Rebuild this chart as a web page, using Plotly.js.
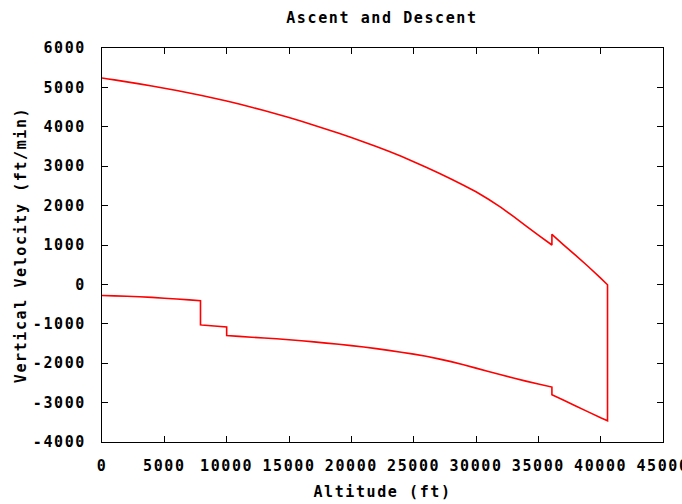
<!DOCTYPE html>
<html>
<head>
<meta charset="utf-8">
<script src="https://cdn.plot.ly/plotly-3.0.1.min.js"></script>
<style>
  html, body { margin: 0; padding: 0; background: #fff; }
  #chart { width: 682px; height: 504px; }
  #chart text { letter-spacing: 1.6px; }
</style>
</head>
<body>
<div id="chart"></div>
<script>
// Ascent: altitude (ft) and vertical velocity (ft/min)
const ascentAltitude = [0, 500, 1000, 2000, 3000, 4000, 5000, 6000, 7000, 8000, 9000, 10000, 11000, 12000, 13000, 14000, 15000, 16000, 17000, 18000, 19000, 20000, 21000, 22000, 23000, 24000, 25000, 26000, 27000, 28000, 29000, 30000, 31000, 32000, 33000, 34000, 35000, 36089, 36089, 37000, 38000, 39000, 40000, 40550];
const ascentVelocity = [5240, 5215, 5190, 5140, 5090, 5035, 4980, 4920, 4860, 4795, 4727, 4655, 4577, 4495, 4412, 4325, 4235, 4140, 4042, 3940, 3837, 3730, 3617, 3500, 3377, 3250, 3115, 2975, 2828, 2675, 2515, 2350, 2160, 1955, 1725, 1485, 1250, 1000, 1270, 1010, 735, 455, 160, -10];

// Descent: from top of climb back down to the ground
const descentAltitude = [40550, 40000, 39000, 38000, 37000, 36089, 36089, 35000, 34000, 33000, 32000, 31000, 30000, 29000, 28000, 27000, 26000, 25000, 24000, 23000, 22000, 21000, 20000, 19000, 18000, 17000, 16000, 15000, 14000, 13000, 12000, 11000, 10000, 10000, 9000, 8000, 7900, 7900, 7000, 6000, 5000, 4000, 3000, 2000, 1000, 0];
const descentVelocity = [-3460, -3385, -3235, -3085, -2935, -2800, -2605, -2530, -2455, -2375, -2295, -2210, -2125, -2040, -1960, -1890, -1825, -1770, -1720, -1675, -1630, -1590, -1555, -1520, -1490, -1460, -1432, -1405, -1380, -1360, -1340, -1320, -1300, -1080, -1055, -1030, -1025, -415, -392, -370, -350, -330, -315, -300, -290, -280];

const xTickVals = [0, 5000, 10000, 15000, 20000, 25000, 30000, 35000, 40000, 45000];
const yTickVals = [-4000, -3000, -2000, -1000, 0, 1000, 2000, 3000, 4000, 5000, 6000];

const altitude = ascentAltitude.concat(descentAltitude);
const velocity = ascentVelocity.concat(descentVelocity);

const font = { family: "'DejaVu Sans Mono', monospace", size: 15, color: '#000' };

const trace = {
  x: altitude,
  y: velocity,
  type: 'scatter',
  mode: 'lines',
  line: { color: '#ff0000', width: 1.6, simplify: false },
  hoverinfo: 'none'
};

const axisCommon = {
  showgrid: false,
  zeroline: false,
  showline: true,
  linecolor: '#000',
  linewidth: 1,
  mirror: 'ticks',
  ticks: 'inside',
  ticklen: 6,
  tickwidth: 1,
  tickcolor: '#000',
  ticklabeloverflow: 'allow',
  tickfont: Object.assign({}, font, { weight: 'bold' })
};

const layout = {
  width: 682,
  height: 504,
  paper_bgcolor: '#fff',
  plot_bgcolor: '#fff',
  showlegend: false,
  margin: { l: 102, r: 19, t: 48, b: 62 },
  font: font,
  title: {
    text: '<b>Ascent and Descent</b>',
    font: { family: font.family, size: 15, color: '#000' },
    x: 0.56, xanchor: 'center',
    y: 0.965, yanchor: 'middle'
  },
  xaxis: Object.assign({}, axisCommon, {
    range: [0, 45000],
    tickvals: xTickVals,
    ticktext: xTickVals.map(String),
    ticklabelstandoff: 10,
    title: { text: '<b>Altitude (ft)</b>', font: font, standoff: 12 }
  }),
  yaxis: Object.assign({}, axisCommon, {
    range: [-4000, 6000],
    tickvals: yTickVals,
    ticktext: yTickVals.map(String),
    ticklabelstandoff: 12,
    title: { text: '<b>Vertical Velocity (ft/min)</b>', font: font, standoff: 10 }
  })
};

Plotly.newPlot('chart', [trace], layout, { staticPlot: true, displayModeBar: false });
</script>
</body>
</html>
